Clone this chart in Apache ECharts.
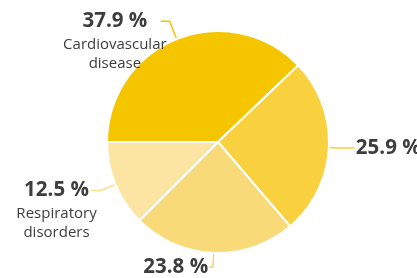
<!DOCTYPE html>
<html>
<head>
<meta charset="utf-8">
<script src="https://cdn.jsdelivr.net/npm/echarts@6/dist/echarts.min.js"></script>
<style>
  html, body { margin: 0; padding: 0; background: #fff; }
  #main { width: 417px; height: 278px; }
</style>
</head>
<body>
<div id="main"></div>
<script>
// slices, clockwise from 9 o'clock
var categories = ['Cardiovascular\ndisease', '', '', 'Respiratory\ndisorders'];
var values = [37.9, 25.9, 23.8, 12.5];
var colors = ['#F5C500', '#F9D13E', '#F9DA78', '#FCE5A2'];
var lineColors = ['#F5C500', '#F9D13E', '#F9D46A', '#FADF8C'];

// label line lengths per slice
var lineLen = [19, 10, 14, 16];
var lineLen2 = [9, 16, 4, 10];

var chart = echarts.init(document.getElementById('main'));

var data = values.map(function (v, i) {
  var named = categories[i] !== '';
  return {
    value: v,
    name: categories[i],
    itemStyle: { color: colors[i] },
    labelLine: { length: lineLen[i], length2: lineLen2[i], lineStyle: { color: lineColors[i], width: 1.5 } },
    label: named ? { distanceToLabelLine: -6, padding: [38, 0, 0, 0] } : { distanceToLabelLine: 1 }
  };
});

chart.setOption({
  animation: false,
  series: [{
    type: 'pie',
    center: [218, 142],
    radius: [0, 111],
    startAngle: 180,
    clockwise: true,
    avoidLabelOverlap: false,
    itemStyle: { borderColor: '#fff', borderWidth: 2 },
    label: {
      show: true,
      position: 'outside',
      fontFamily: 'Open Sans',
      formatter: function (p) {
        var s = '{v|' + p.value.toFixed(1) + ' %}';
        if (p.name) s += '\n{n|' + p.name.split('\n').join('}\n{n|') + '}';
        return s;
      },
      rich: {
        v: { fontFamily: 'Open Sans', fontWeight: 'bold', fontSize: 20.5, color: '#3d3d3d', lineHeight: 28, align: 'center' },
        n: { fontFamily: 'Open Sans', fontSize: 15, color: '#3d3d3d', lineHeight: 19, align: 'center' }
      }
    },
    labelLine: { show: true, smooth: false },
    emphasis: { disabled: true },
    data: data
  }]
});
</script>
</body>
</html>
